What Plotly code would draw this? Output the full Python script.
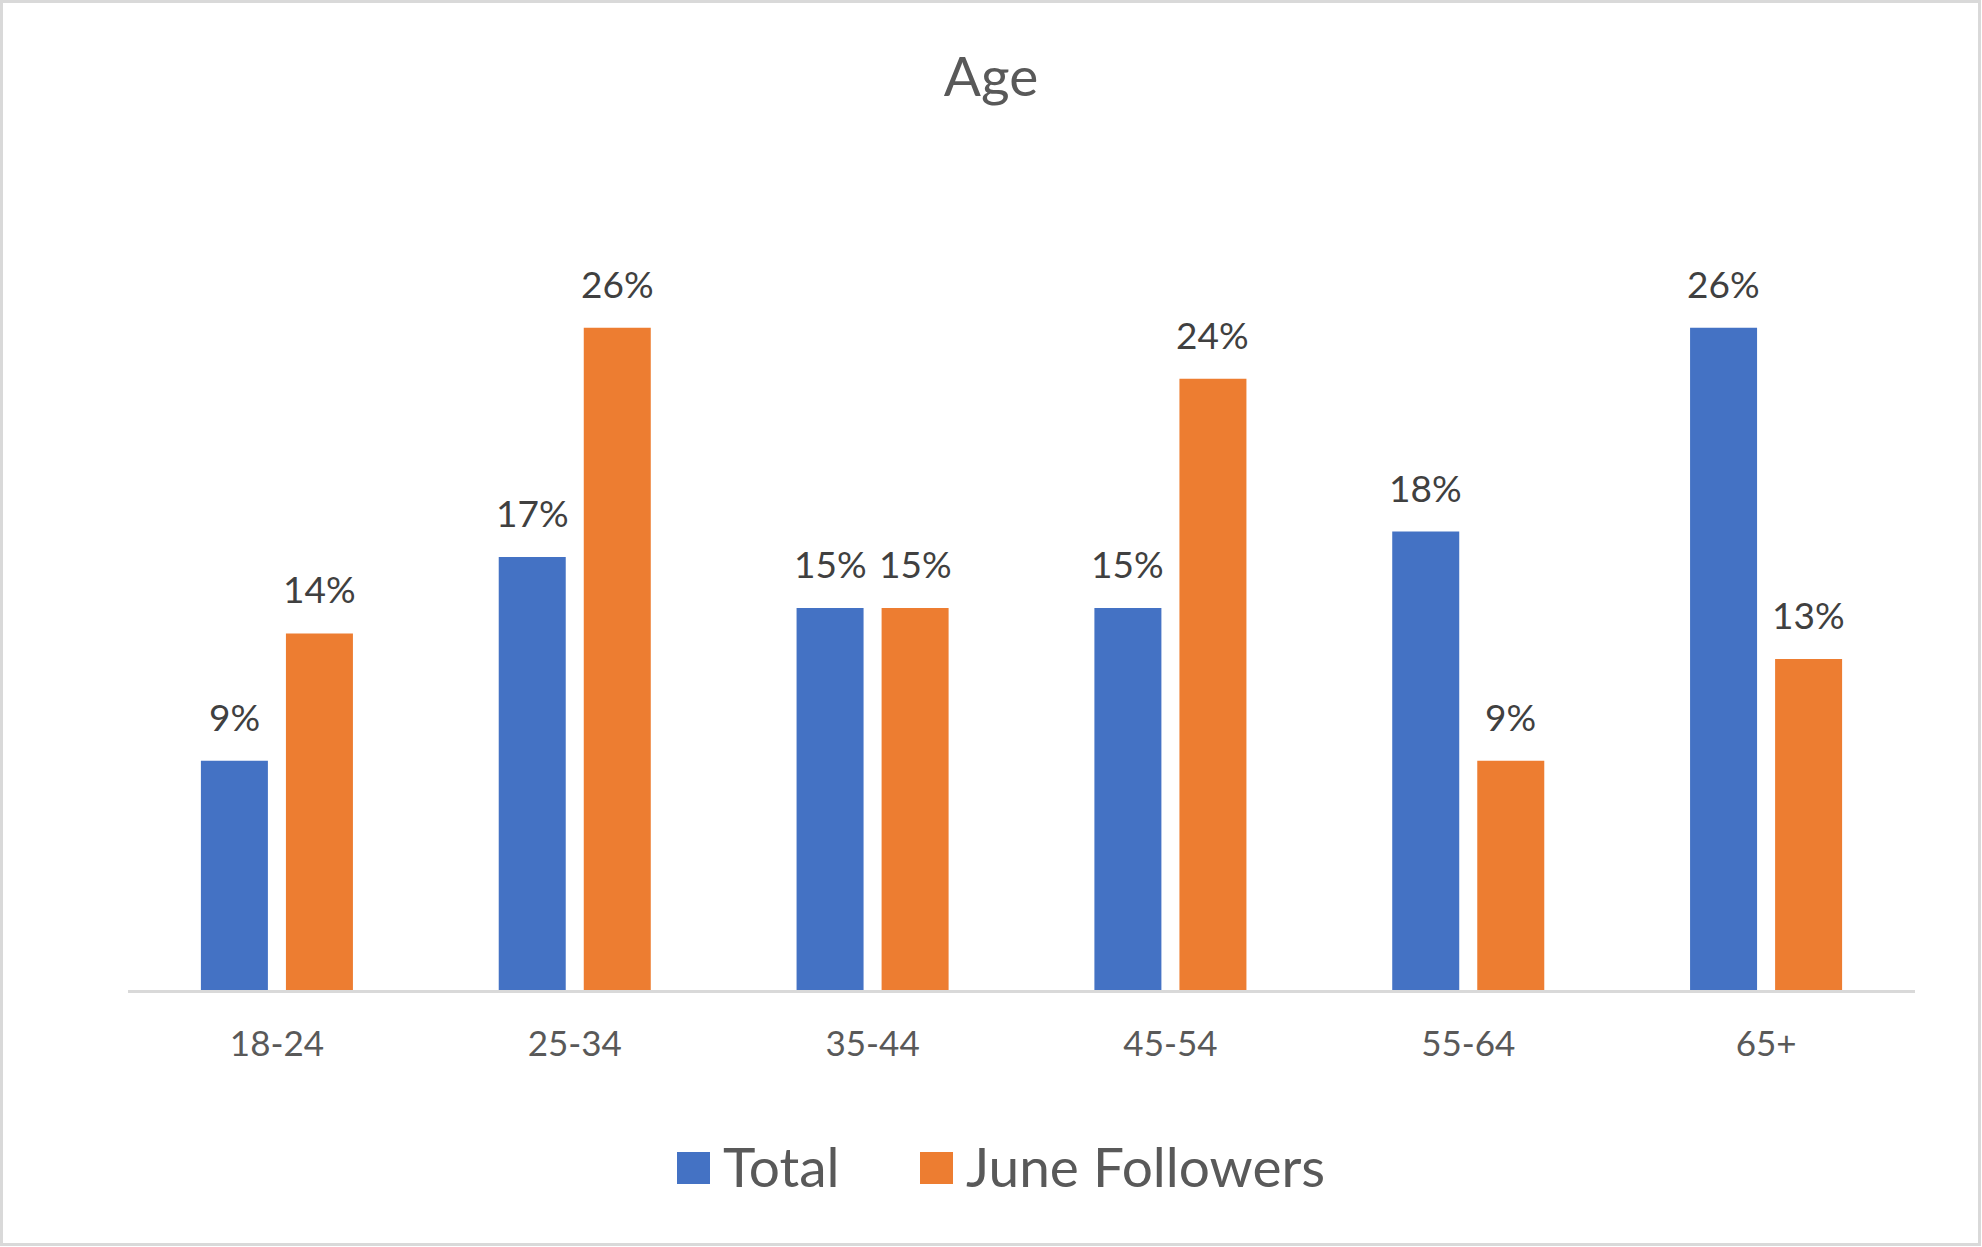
import plotly.graph_objects as go

categories = ["18-24", "25-34", "35-44", "45-54", "55-64", "65+"]
total = [0.09, 0.17, 0.15, 0.15, 0.18, 0.26]
june = [0.14, 0.26, 0.15, 0.24, 0.09, 0.13]
series_names = ["Total", "June Followers"]
colors = ["#4472C4", "#ED7D31"]

W, H = 1982, 1247
ML, MR, MT, MB = 128, 67, 226, 257
PW = W - ML - MR
PH = H - MT - MB

def px_x(px):
    return (px - ML) / PW

def px_y(py):
    return (H - MB - py) / PH

FONT = "Lato, Carlito, Calibri, 'Open Sans', sans-serif"

fig = go.Figure()
for name, vals, col in zip(series_names, [total, june], colors):
    fig.add_trace(go.Bar(
        x=categories, y=vals, name=name,
        marker=dict(color=col, line=dict(width=0)),
        showlegend=False, hoverinfo="skip",
    ))

annotations = []
for vals, shift in [(total, -42.5), (june, 42.5)]:
    for c, v in zip(categories, vals):
        annotations.append(dict(
            x=c, y=v, xref="x", yref="y", text=f"{round(v*100)}%",
            showarrow=False, xanchor="center", yanchor="bottom",
            xshift=shift, yshift=20,
            font=dict(family=FONT, size=37, color="#404040"),
        ))

# custom legend
legend_items = [("Total", colors[0], 677, 721), ("June Followers", colors[1], 920, 964)]
shapes = []
for name, col, sq_x, tx in legend_items:
    shapes.append(dict(type="rect", xref="paper", yref="paper",
                       x0=px_x(sq_x), x1=px_x(sq_x + 33),
                       y0=px_y(1184), y1=px_y(1152),
                       fillcolor=col, line=dict(width=0)))
    annotations.append(dict(
        x=px_x(tx), y=px_y(1166), xref="paper", yref="paper", text=name,
        showarrow=False, xanchor="left", yanchor="middle",
        font=dict(family=FONT, size=55, color="#595959"),
    ))

# outer border
shapes.append(dict(type="rect", xref="paper", yref="paper",
                   x0=px_x(1.5), x1=px_x(W - 2.5), y0=px_y(H - 2.5), y1=px_y(1.5),
                   line=dict(color="#D9D9D9", width=3), fillcolor="rgba(0,0,0,0)",
                   layer="below"))

fig.update_layout(
    width=W, height=H,
    margin=dict(l=ML, r=MR, t=MT, b=MB),
    paper_bgcolor="white", plot_bgcolor="white",
    barmode="group", bargap=0.429, bargroupgap=0.212,
    title=dict(text="Age", x=0.5, xanchor="center", y=1 - 77 / H, yanchor="middle",
               font=dict(family=FONT, size=55, color="#595959")),
    xaxis=dict(showline=True, linecolor="#D9D9D9", linewidth=3, ticks="",
               showgrid=False, zeroline=False,
               tickfont=dict(family=FONT, size=35, color="#595959"),
               ticklabelstandoff=21),
    yaxis=dict(visible=False, range=[0, 0.30], showgrid=False, zeroline=False),
    annotations=annotations, shapes=shapes,
    showlegend=False,
)

fig.write_html(
    "out.html",
    config={"displayModeBar": False},
    post_script="document.body.style.margin='0';document.body.style.overflow='hidden';",
)
